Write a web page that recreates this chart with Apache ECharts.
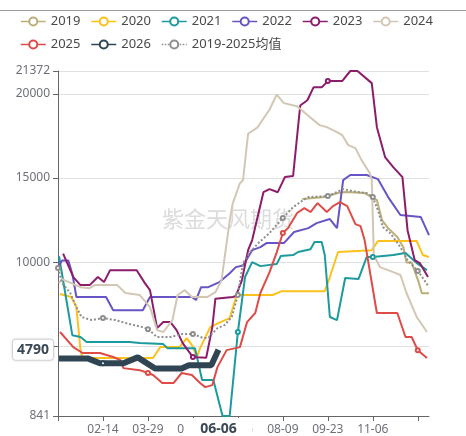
<!DOCTYPE html>
<html>
<head>
<meta charset="utf-8">
<script src="https://cdn.jsdelivr.net/npm/echarts@6/dist/echarts.min.js"></script>
<style>
  html, body { margin: 0; padding: 0; background: #fff; }
  #chart { width: 466px; height: 436px; }
</style>
</head>
<body>
<div id="chart"></div>
<script>
// x categories: calendar days of a leap year, two dates never occur in the source data
const monthDays = [31, 29, 31, 30, 31, 30, 31, 31, 30, 31, 30, 31]
const missingDays = ['07-15', '09-08']
const categories = []
monthDays.forEach((n, m) => {
  for (let d = 1; d <= n; d++) {
    const key = String(m + 1).padStart(2, '0') + '-' + String(d).padStart(2, '0')
    if (!missingDays.includes(key)) categories.push(key)
  }
})

// [day index, price]
const s2019 = [[239, 13750], [261, 13870], [274, 14110], [281, 14170], [300, 14110], [307, 13870], [312, 13690], [317, 12500], [323, 12020], [332, 11490], [338, 10870], [341, 9980], [346, 9980], [353, 8790], [356, 8150], [363, 8150]]
const s2020 = [[2, 8100], [13, 7920], [18, 7320], [22, 4760], [24, 4290], [93, 4290], [100, 4940], [119, 4940], [126, 5480], [131, 5060], [136, 4350], [139, 4880], [149, 6130], [159, 6430], [168, 6670], [174, 7860], [178, 8040], [210, 8040], [219, 8270], [261, 8270], [266, 9110], [274, 10600], [307, 10710], [313, 11250], [351, 11250], [357, 10420], [363, 10300]]
const s2021 = [[1, 10350], [14, 5650], [22, 5540], [28, 5240], [70, 5240], [80, 5180], [103, 5120], [107, 4880], [134, 4880], [141, 2980], [152, 2980], [161, 841], [168, 841], [176, 5840], [183, 9110], [190, 10000], [198, 9760], [214, 9880], [218, 10360], [230, 10420], [235, 10600], [247, 10770], [251, 11190], [258, 11190], [261, 10420], [266, 6730], [273, 6550], [281, 9050], [294, 8990], [302, 10300], [308, 10300], [328, 10420], [340, 10540], [351, 9940], [361, 9520]]
const s2022 = [[1, 9800], [4, 10100], [10, 10100], [14, 9310], [18, 7920], [47, 7920], [54, 7140], [83, 7140], [90, 7920], [131, 7920], [135, 7740], [140, 8510], [147, 8510], [158, 8810], [168, 9340], [174, 9700], [181, 9800], [186, 10300], [190, 10710], [198, 10890], [204, 11130], [221, 11130], [231, 11790], [245, 12020], [253, 12320], [266, 12560], [273, 12020], [279, 14880], [286, 15180], [302, 15180], [313, 14940], [323, 13870], [335, 12800], [355, 12680], [363, 11610]]
const s2023 = [[5, 10500], [15, 9110], [22, 8630], [31, 8630], [39, 9110], [45, 8810], [51, 9520], [77, 9520], [85, 8750], [90, 8330], [97, 6070], [103, 6430], [110, 6430], [116, 5950], [122, 5180], [132, 4350], [136, 4330], [145, 4310], [151, 6130], [154, 7820], [171, 7920], [174, 7980], [180, 8930], [186, 10710], [190, 11310], [201, 14160], [207, 14340], [215, 14160], [222, 15060], [230, 15120], [237, 19320], [244, 19630], [250, 20400], [258, 20400], [264, 20770], [278, 20770], [286, 21372], [293, 21372], [307, 20650], [312, 18030], [320, 16250], [328, 15650], [337, 15060], [342, 11900], [349, 10120], [354, 9940], [362, 9110]]
const s2024 = [[1, 8750], [4, 8990], [22, 8510], [31, 8450], [36, 8630], [58, 8630], [66, 8160], [80, 8040], [90, 7320], [97, 5950], [103, 5840], [112, 6550], [117, 8040], [124, 8330], [131, 7920], [146, 7920], [154, 8210], [160, 8910], [168, 12480], [171, 13490], [178, 14690], [181, 14870], [186, 17640], [195, 18000], [207, 19080], [214, 19970], [221, 19460], [234, 19280], [244, 18750], [256, 18150], [263, 18030], [273, 17740], [278, 17560], [284, 16960], [291, 16780], [297, 16070], [305, 15300], [307, 14880], [309, 10420], [315, 9700], [328, 9400], [335, 9230], [341, 8160], [351, 6730], [361, 5840]]
const s2025 = [[2, 5840], [15, 4940], [24, 4590], [41, 4590], [54, 4350], [61, 4170], [64, 3690], [80, 3570], [88, 3400], [93, 3280], [102, 2800], [113, 2800], [121, 3400], [131, 3280], [139, 2800], [144, 2560], [151, 2680], [156, 3750], [165, 4760], [178, 4940], [185, 6430], [193, 6970], [198, 8160], [207, 9400], [214, 10580], [220, 11730], [225, 12020], [234, 12920], [241, 13210], [247, 12980], [254, 13510], [263, 12980], [269, 13330], [276, 13570], [283, 13330], [291, 12260], [296, 12140], [300, 11310], [312, 6970], [332, 6970], [340, 5540], [346, 5540], [352, 4760], [361, 4290]]
const s2026 = [[1, 4270], [29, 4270], [41, 3980], [44, 3980], [64, 3980], [78, 4330], [95, 3670], [121, 3670], [128, 3860], [150, 3860], [157, 4790]]
const sAvg = [[0, 9650], [4, 8750], [12, 8160], [18, 7320], [23, 6730], [33, 6550], [44, 6670], [56, 6550], [70, 6310], [83, 6130], [88, 6010], [97, 5540], [110, 5540], [122, 5720], [132, 5720], [142, 5480], [147, 5480], [156, 6070], [163, 6250], [170, 6730], [176, 8040], [181, 9940], [188, 10600], [196, 11130], [207, 11730], [220, 12620], [230, 13270], [240, 13690], [245, 13870], [264, 13930], [279, 14340], [293, 14170], [302, 14110], [308, 13870], [313, 13090], [318, 12080], [325, 11730], [335, 10890], [342, 10120], [352, 9470], [357, 9050], [363, 8510]]

const seriesNames = ['2019', '2020', '2021', '2022', '2023', '2024', '2025', '2026', '2019-2025均值']
const seriesData = [s2019, s2020, s2021, s2022, s2023, s2024, s2025, s2026, sAvg]
const seriesColors = ['#bcae76', '#fcc21b', '#1c9a9e', '#6854c4', '#8c1c6c', '#d3c7b4', '#de4c47', '#2f4554', '#8e8e8e']

const pointerIndex = categories.indexOf('06-06')
const pointerValue = s2026[s2026.length - 1][1]

const fontFamily = '"Noto Sans", "Noto Sans CJK SC", sans-serif'
const pointerLabel = {
  show: true,
  backgroundColor: '#fff',
  borderColor: '#dcdcdc',
  borderWidth: 1,
  borderRadius: 3,
  shadowBlur: 3,
  shadowColor: 'rgba(0, 0, 0, 0.12)',
  color: '#3a4856',
  fontWeight: 'bold',
  fontSize: 14,
  fontFamily: fontFamily
}

const chart = echarts.init(document.getElementById('chart'))

chart.setOption({
  animation: false,
  textStyle: { fontFamily: fontFamily },
  graphic: [
    {
      type: 'line',
      shape: { x1: 0, y1: 10.5, x2: 466, y2: 10.5 },
      style: { stroke: '#9c9c9c', lineWidth: 1 }
    },
    {
      type: 'text',
      left: 162,
      top: 210,
      z: 0,
      style: {
        text: '紫金天风期货',
        fontSize: 22,
        fontFamily: fontFamily,
        fill: '#dcdcdc'
      }
    }
  ],
  legend: {
    data: seriesNames,
    left: 15,
    top: 10,
    itemWidth: 25,
    itemHeight: 10,
    itemGap: 10,
    lineStyle: { width: 1.5 },
    itemStyle: { borderWidth: 1.2 },
    textStyle: { color: '#4a4a4a', fontSize: 13 }
  },
  grid: {
    left: 58,
    right: 37,
    top: 71,
    bottom: 20,
    containLabel: false,
    outerBoundsMode: 'none'
  },
  xAxis: {
    type: 'category',
    data: categories,
    boundaryGap: false,
    axisLine: { lineStyle: { color: '#666' } },
    axisTick: { interval: 43, length: 5, lineStyle: { color: '#666' } },
    axisLabel: {
      interval: 43,
      color: '#6e7079',
      fontSize: 12,
      formatter: (value, index) => (index === 0 || index === 352 ? '' : value)
    },
    splitLine: { show: false },
    axisPointer: {
      show: true,
      type: 'none',
      status: 'show',
      value: pointerIndex,
      triggerTooltip: false,
      label: Object.assign({}, pointerLabel, {
        margin: 3,
        padding: [3, 15, 0, 15],
        borderColor: '#fff',
        shadowColor: 'rgba(0, 0, 0, 0)'
      })
    }
  },
  yAxis: {
    type: 'value',
    min: 'dataMin',
    max: 'dataMax',
    axisLine: { show: true, lineStyle: { color: '#666' } },
    axisTick: { show: true, length: 5, lineStyle: { color: '#666' } },
    axisLabel: { color: '#6e7079', fontSize: 12, formatter: value => String(value) },
    splitLine: { lineStyle: { color: '#e0e0e0' } },
    axisPointer: {
      show: true,
      type: 'none',
      status: 'show',
      value: pointerValue,
      triggerTooltip: false,
      label: Object.assign({}, pointerLabel, {
        margin: 5,
        padding: [3, 4],
        formatter: p => String(Math.round(p.value))
      })
    }
  },
  series: seriesData.map((data, i) => {
    const isCurrent = seriesNames[i] === '2026'
    const isAvg = i === seriesNames.length - 1
    return {
      name: seriesNames[i],
      type: 'line',
      data: data,
      symbol: 'emptyCircle',
      symbolSize: 4,
      color: seriesColors[i],
      z: isCurrent ? 4 : 2,
      lineStyle: {
        width: isCurrent ? 6 : 2,
        type: isAvg ? 'dotted' : 'solid',
        color: seriesColors[i]
      }
    }
  })
})
</script>
</body>
</html>
